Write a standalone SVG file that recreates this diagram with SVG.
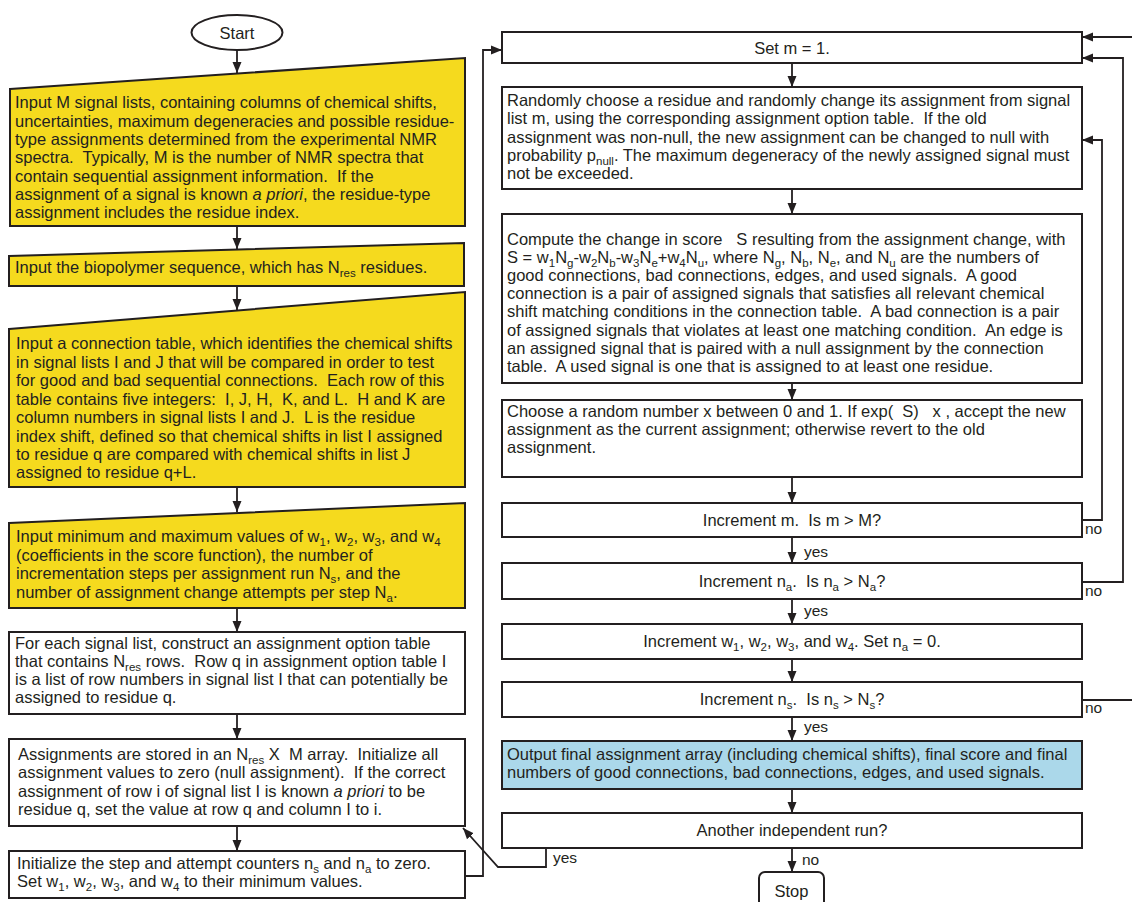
<svg xmlns="http://www.w3.org/2000/svg" width="1132" height="902" viewBox="0 0 1132 902">
<style>
text{font-family:"Liberation Sans",Arial,Helvetica,sans-serif;font-size:16.5px;fill:#231f20;white-space:pre}
.c{text-anchor:middle}
.s{font-size:11.5px;baseline-shift:-3.5px}
.lbl{font-size:15.5px}
.box{fill:#fff;stroke:#231f20;stroke-width:2}
.yel{fill:#f5da1e;stroke:#231f20;stroke-width:2}
.blue{fill:#abd8ea;stroke:#231f20;stroke-width:2}
.ln{fill:none;stroke:#231f20;stroke-width:1.8}
</style>
<defs>
<marker id="ah" markerUnits="userSpaceOnUse" markerWidth="12" markerHeight="12" viewBox="0 0 12 12" refX="11" refY="6" orient="auto">
<path d="M0,1.5 L11,6 L0,10.5 Z" fill="#231f20"/>
</marker>
</defs>

<g id="start">
<ellipse cx="237" cy="32.5" rx="45.5" ry="17.5" class="box"/>
<text x="237" y="38.5" class="c">Start</text>
</g>

<g id="input-signal-lists">
<polygon points="10,89 465,58 465,226 10,226" class="yel"/>
<text x="15" y="108">Input M signal lists, containing columns of chemical shifts,</text>
<text x="15" y="126.5">uncertainties, maximum degeneracies and possible residue-</text>
<text x="15" y="145">type assignments determined from the experimental NMR</text>
<text x="15" y="163">spectra.  Typically, M is the number of NMR spectra that</text>
<text x="15" y="181.5">contain sequential assignment information.  If the</text>
<text x="15" y="200">assignment of a signal is known <tspan font-style="italic">a priori</tspan>, the residue-type</text>
<text x="15" y="218">assignment includes the residue index.</text>
</g>

<g id="input-sequence">
<polygon points="9,256 464,243 464,286 9,286" class="yel"/>
<text x="15" y="273">Input the biopolymer sequence, which has N<tspan class="s">res</tspan> residues.</text>
</g>

<g id="input-connection-table">
<polygon points="9,329 465,292 465,487 9,487" class="yel"/>
<text x="16" y="349">Input a connection table, which identifies the chemical shifts</text>
<text x="16" y="367.5">in signal lists I and J that will be compared in order to test</text>
<text x="16" y="386">for good and bad sequential connections.  Each row of this</text>
<text x="16" y="404.5">table contains five integers:  I, J, H,  K, and L.  H and K are</text>
<text x="16" y="423">column numbers in signal lists I and J.  L is the residue</text>
<text x="16" y="441.5">index shift, defined so that chemical shifts in list I assigned</text>
<text x="16" y="460">to residue q are compared with chemical shifts in list J</text>
<text x="16" y="478">assigned to residue q+L.</text>
</g>

<g id="input-weights">
<polygon points="9,523 465,503 465,608 9,608" class="yel"/>
<text x="16" y="542">Input minimum and maximum values of w<tspan class="s">1</tspan>, w<tspan class="s">2</tspan>, w<tspan class="s">3</tspan>, and w<tspan class="s">4</tspan></text>
<text x="16" y="560.5">(coefficients in the score function), the number of</text>
<text x="16" y="579">incrementation steps per assignment run N<tspan class="s">s</tspan>, and the</text>
<text x="16" y="597.5">number of assignment change attempts per step N<tspan class="s">a</tspan>.</text>
</g>

<g id="option-table">
<rect x="9" y="632" width="456" height="82" class="box"/>
<text x="15" y="648.5">For each signal list, construct an assignment option table</text>
<text x="15" y="667">that contains N<tspan class="s">res</tspan> rows.  Row q in assignment option table I</text>
<text x="15" y="685">is a list of row numbers in signal list I that can potentially be</text>
<text x="15" y="703">assigned to residue q.</text>
</g>

<g id="init-array">
<rect x="9" y="739" width="456" height="87" class="box"/>
<text x="18" y="760">Assignments are stored in an N<tspan class="s">res</tspan> X  M array.  Initialize all</text>
<text x="18" y="778.3">assignment values to zero (null assignment).  If the correct</text>
<text x="18" y="796.7">assignment of row i of signal list I is known <tspan font-style="italic">a priori</tspan> to be</text>
<text x="18" y="815">residue q, set the value at row q and column I to i.</text>
</g>

<g id="init-counters">
<rect x="9" y="851" width="456" height="47" class="box"/>
<text x="17" y="869.3">Initialize the step and attempt counters n<tspan class="s">s</tspan> and n<tspan class="s">a</tspan> to zero.</text>
<text x="17" y="887.3">Set w<tspan class="s">1</tspan>, w<tspan class="s">2</tspan>, w<tspan class="s">3</tspan>, and w<tspan class="s">4</tspan> to their minimum values.</text>
</g>

<g id="set-m">
<rect x="502" y="32" width="580" height="31" class="box"/>
<text x="792" y="54" class="c">Set m = 1.</text>
</g>

<g id="random-change">
<rect x="502" y="87" width="580" height="102" class="box"/>
<text x="507" y="106">Randomly choose a residue and randomly change its assignment from signal</text>
<text x="507" y="124.3">list m, using the corresponding assignment option table.  If the old</text>
<text x="507" y="142.6">assignment was non-null, the new assignment can be changed to null with</text>
<text x="507" y="161">probability p<tspan class="s">null</tspan>. The maximum degeneracy of the newly assigned signal must</text>
<text x="507" y="179.3">not be exceeded.</text>
</g>

<g id="compute-score">
<rect x="502" y="214" width="580" height="169" class="box"/>
<text x="507" y="244.5">Compute the change in score   S resulting from the assignment change, with</text>
<text x="507" y="262.7">S = w<tspan class="s">1</tspan>N<tspan class="s">g</tspan>-w<tspan class="s">2</tspan>N<tspan class="s">b</tspan>-w<tspan class="s">3</tspan>N<tspan class="s">e</tspan>+w<tspan class="s">4</tspan>N<tspan class="s">u</tspan>, where N<tspan class="s">g</tspan>, N<tspan class="s">b</tspan>, N<tspan class="s">e</tspan>, and N<tspan class="s">u</tspan> are the numbers of</text>
<text x="507" y="280.9">good connections, bad connections, edges, and used signals.  A good</text>
<text x="507" y="299.1">connection is a pair of assigned signals that satisfies all relevant chemical</text>
<text x="507" y="317.3">shift matching conditions in the connection table.  A bad connection is a pair</text>
<text x="507" y="335.5">of assigned signals that violates at least one matching condition.  An edge is</text>
<text x="507" y="353.7">an assigned signal that is paired with a null assignment by the connection</text>
<text x="507" y="371.9">table.  A used signal is one that is assigned to at least one residue.</text>
</g>

<g id="accept">
<rect x="502" y="400" width="580" height="77" class="box"/>
<text x="507" y="416.7">Choose a random number x between 0 and 1. If exp(  S)   x , accept the new</text>
<text x="507" y="434.7">assignment as the current assignment; otherwise revert to the old</text>
<text x="507" y="452.7">assignment.</text>
</g>

<g id="inc-m">
<rect x="502" y="503" width="580" height="34" class="box"/>
<text x="792" y="526" class="c">Increment m.  Is m &gt; M?</text>
</g>

<g id="inc-na">
<rect x="502" y="563" width="580" height="36" class="box"/>
<text x="792" y="587" class="c">Increment n<tspan class="s">a</tspan>.  Is n<tspan class="s">a</tspan> &gt; N<tspan class="s">a</tspan>?</text>
</g>

<g id="inc-w">
<rect x="502" y="624" width="580" height="35" class="box"/>
<text x="792" y="647" class="c">Increment w<tspan class="s">1</tspan>, w<tspan class="s">2</tspan>, w<tspan class="s">3</tspan>, and w<tspan class="s">4</tspan>. Set n<tspan class="s">a</tspan> = 0.</text>
</g>

<g id="inc-ns">
<rect x="502" y="682" width="580" height="35" class="box"/>
<text x="792" y="705" class="c">Increment n<tspan class="s">s</tspan>.  Is n<tspan class="s">s</tspan> &gt; N<tspan class="s">s</tspan>?</text>
</g>

<g id="output">
<rect x="502" y="741" width="580" height="48" class="blue"/>
<text x="507" y="760">Output final assignment array (including chemical shifts), final score and final</text>
<text x="507" y="778.3">numbers of good connections, bad connections, edges, and used signals.</text>
</g>

<g id="another-run">
<rect x="502" y="813" width="580" height="35" class="box"/>
<text x="792" y="836" class="c">Another independent run?</text>
</g>

<g id="stop">
<rect x="759" y="872" width="65" height="45" rx="6" class="box"/>
<text x="791.5" y="897" class="c">Stop</text>
</g>

<g id="connectors">
<line x1="237" y1="50" x2="237" y2="73" class="ln" marker-end="url(#ah)"/>
<line x1="237" y1="226" x2="237" y2="249" class="ln" marker-end="url(#ah)"/>
<line x1="237" y1="286" x2="237" y2="310" class="ln" marker-end="url(#ah)"/>
<line x1="237" y1="487" x2="237" y2="512" class="ln" marker-end="url(#ah)"/>
<line x1="237" y1="608" x2="237" y2="632" class="ln" marker-end="url(#ah)"/>
<line x1="237" y1="714" x2="237" y2="739" class="ln" marker-end="url(#ah)"/>
<line x1="237" y1="826" x2="237" y2="851" class="ln" marker-end="url(#ah)"/>
<polyline points="465,876 483,876 483,50 502,50" class="ln" marker-end="url(#ah)"/>
<line x1="792" y1="63" x2="792" y2="87" class="ln" marker-end="url(#ah)"/>
<line x1="792" y1="189" x2="792" y2="214" class="ln" marker-end="url(#ah)"/>
<line x1="792" y1="383" x2="792" y2="400" class="ln" marker-end="url(#ah)"/>
<line x1="792" y1="477" x2="792" y2="503" class="ln" marker-end="url(#ah)"/>
<line x1="792" y1="537" x2="792" y2="563" class="ln" marker-end="url(#ah)"/>
<line x1="792" y1="599" x2="792" y2="624" class="ln" marker-end="url(#ah)"/>
<line x1="792" y1="659" x2="792" y2="682" class="ln" marker-end="url(#ah)"/>
<line x1="792" y1="717" x2="792" y2="741" class="ln" marker-end="url(#ah)"/>
<line x1="792" y1="789" x2="792" y2="813" class="ln" marker-end="url(#ah)"/>
<line x1="792" y1="848" x2="792" y2="872" class="ln" marker-end="url(#ah)"/>
<polyline points="1082,520 1102,520 1102,140 1082,140" class="ln" marker-end="url(#ah)"/>
<polyline points="1082,582 1123,582 1123,58 1082,58" class="ln" marker-end="url(#ah)"/>
<line x1="1082" y1="700" x2="1132" y2="700" class="ln"/>
<line x1="1132" y1="37" x2="1082" y2="37" class="ln" marker-end="url(#ah)"/>
<polyline points="546,848 546,867 498,867 463,828" class="ln" marker-end="url(#ah)"/>
<text x="1085" y="534" class="lbl">no</text>
<text x="1085" y="596" class="lbl">no</text>
<text x="1085" y="713" class="lbl">no</text>
<text x="804" y="556.5" class="lbl">yes</text>
<text x="804" y="616" class="lbl">yes</text>
<text x="804" y="731.5" class="lbl">yes</text>
<text x="553" y="863" class="lbl">yes</text>
<text x="802" y="865" class="lbl">no</text>
</g>
</svg>
